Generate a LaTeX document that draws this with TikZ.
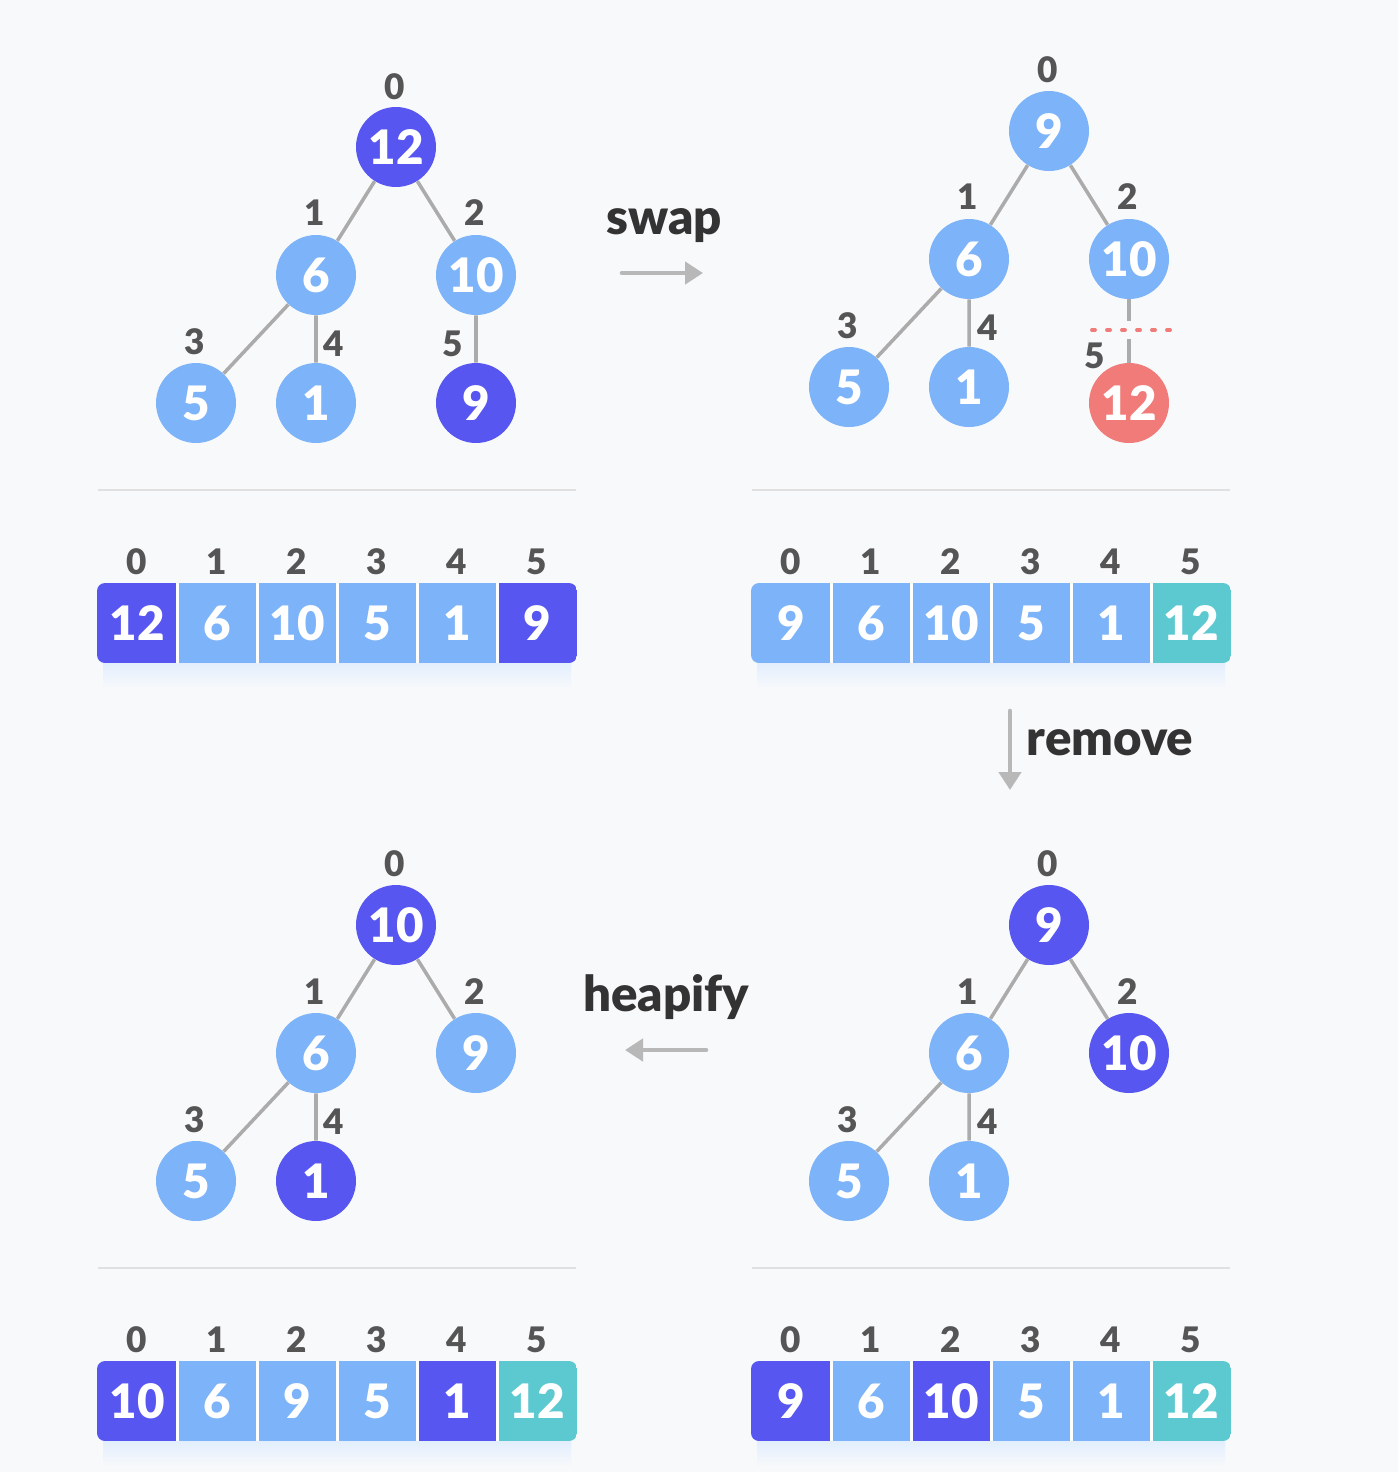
\documentclass[tikz,border=0pt]{standalone}
\usepackage{fontspec}
\IfFontExistsTF{Lato Black}{\setmainfont{Lato}[BoldFont={Lato Black}]}{%
	\IfFontExistsTF{Lato Heavy}{\setmainfont{Lato}[BoldFont={Lato Heavy}]}{\setmainfont{Lato}}}
\usetikzlibrary{arrows.meta}
\definecolor{dk}{HTML}{5856F0}
\definecolor{lt}{HTML}{7DB3F8}
\definecolor{tl}{HTML}{5CC9D1}
\definecolor{rd}{HTML}{F07B78}
\definecolor{bgc}{HTML}{F8F9FB}
\definecolor{edg}{HTML}{ABABAB}
\definecolor{idc}{HTML}{555555}
\definecolor{txc}{HTML}{333333}

\begin{document}
\begin{tikzpicture}[x=0.02cm, y=-0.02cm,
	key/.style={circle, minimum size=1.6cm, inner sep=0pt, text=white, font=\fontsize{27}{30}\selectfont\bfseries},
	idx/.style={text=idc, font=\fontsize{20}{22}\selectfont\bfseries, inner sep=0pt},
	cell/.style={minimum width=1.6cm, minimum height=1.6cm, inner sep=0pt, text=white, font=\fontsize{27}{30}\selectfont\bfseries},
	edge/.style={draw=edg, line width=2pt},
	sep/.style={draw=black!12, line width=1pt},
	move/.style={draw=edg!85, line width=2.6pt, line cap=round, -{Triangle[length=0.36cm, width=0.44cm]}},
	word/.style={text=txc, font=\fontsize{28}{30}\selectfont\bfseries, inner sep=0pt}]
	\fill[bgc] (0,0) rectangle (1398,1472);
	% trees
	\foreach \n/\x/\y/\v/\c in {a0/396/147/12/dk, a1/316/275/6/lt, a2/476/275/10/lt, a3/196/403/5/lt, a4/316/403/1/lt, a5/476/403/9/dk}
	{
		\node[key, fill=\c] (\n) at (\x,\y) {\v};
	}
	\foreach \n/\x/\y/\v/\c in {b0/1049/131/9/lt, b1/969/259/6/lt, b2/1129/259/10/lt, b3/849/387/5/lt, b4/969/387/1/lt, b5/1129/403/12/rd}
	{
		\node[key, fill=\c] (\n) at (\x,\y) {\v};
	}
	\foreach \n/\x/\y/\v/\c in {c0/396/925/10/dk, c1/316/1053/6/lt, c2/476/1053/9/lt, c3/196/1181/5/lt, c4/316/1181/1/dk}
	{
		\node[key, fill=\c] (\n) at (\x,\y) {\v};
	}
	\foreach \n/\x/\y/\v/\c in {d0/1049/925/9/dk, d1/969/1053/6/lt, d2/1129/1053/10/dk, d3/849/1181/5/lt, d4/969/1181/1/lt}
	{
		\node[key, fill=\c] (\n) at (\x,\y) {\v};
	}
	\draw[edge] (a1) -- (a0) -- (a2) -- (a5); \draw[edge] (a3) -- (a1) -- (a4);
	\draw[edge] (b1) -- (b0) -- (b2); \draw[edge] (b3) -- (b1) -- (b4);
	\coordinate (cut1) at (1129,321); \coordinate (cut2) at (1129,339);
	\draw[edge] (b2) -- (cut1); \draw[edge] (cut2) -- (b5);
	\coordinate (dl) at (1092,330); \coordinate (dr) at (1170,330);
	\draw[rd, line width=2.2pt, line cap=round, dash pattern=on 0.06cm off 0.24cm] (dl) -- (dr);
	\draw[edge] (c1) -- (c0) -- (c2); \draw[edge] (c3) -- (c1) -- (c4);
	\draw[edge] (d1) -- (d0) -- (d2); \draw[edge] (d3) -- (d1) -- (d4);
	% tree indices
	\foreach \i/\x/\y in {0/395/87, 1/315/213, 2/475/213, 3/195/342, 4/334/344, 5/453/344}
		\node[idx] (a\i i) at (\x,\y) {\i};
	\foreach \i/\x/\y in {0/1048/70, 1/968/197, 2/1128/197, 3/848/326, 4/988/328, 5/1095/356}
		\node[idx] (b\i i) at (\x,\y) {\i};
	\foreach \i/\x/\y in {0/395/864, 1/315/992, 2/475/992, 3/195/1120, 4/334/1122}
		\node[idx] (c\i i) at (\x,\y) {\i};
	\foreach \i/\x/\y in {0/1048/864, 1/968/992, 2/1128/992, 3/848/1120, 4/988/1122}
		\node[idx] (d\i i) at (\x,\y) {\i};
	% separators
	\draw[sep] (98,490) -- (576,490); \draw[sep] (752,490) -- (1230,490);
	\draw[sep] (98,1268) -- (576,1268); \draw[sep] (752,1268) -- (1230,1268);
	% arrays
	\begin{scope}[shift={(97,583)}]
		\shade[top color=lt!22, bottom color=bgc] (6,80) rectangle (474,106);
		\foreach \i in {0,...,5} \node[idx] at (40+80*\i,-21) {\i};
		\begin{scope}
			\clip[rounded corners=0.16cm] (0,0) rectangle (480,80);
			\foreach \i/\v/\c in {0/12/dk, 1/6/lt, 2/10/lt, 3/5/lt, 4/1/lt, 5/9/dk}
				\node[cell, fill=\c] (p\i) at (40+80*\i,40) {\v};
			\foreach \i in {0,...,4} \draw[white, line width=1.6pt] (p\i.north east) -- (p\i.south east);
		\end{scope}
	\end{scope}
	\begin{scope}[shift={(751,583)}]
		\shade[top color=lt!22, bottom color=bgc] (6,80) rectangle (474,106);
		\foreach \i in {0,...,5} \node[idx] at (40+80*\i,-21) {\i};
		\begin{scope}
			\clip[rounded corners=0.16cm] (0,0) rectangle (480,80);
			\foreach \i/\v/\c in {0/9/lt, 1/6/lt, 2/10/lt, 3/5/lt, 4/1/lt, 5/12/tl}
				\node[cell, fill=\c] (q\i) at (40+80*\i,40) {\v};
			\foreach \i in {0,...,4} \draw[white, line width=1.6pt] (q\i.north east) -- (q\i.south east);
		\end{scope}
	\end{scope}
	\begin{scope}[shift={(97,1361)}]
		\shade[top color=lt!22, bottom color=bgc] (6,80) rectangle (474,106);
		\foreach \i in {0,...,5} \node[idx] at (40+80*\i,-21) {\i};
		\begin{scope}
			\clip[rounded corners=0.16cm] (0,0) rectangle (480,80);
			\foreach \i/\v/\c in {0/10/dk, 1/6/lt, 2/9/lt, 3/5/lt, 4/1/dk, 5/12/tl}
				\node[cell, fill=\c] (r\i) at (40+80*\i,40) {\v};
			\foreach \i in {0,...,4} \draw[white, line width=1.6pt] (r\i.north east) -- (r\i.south east);
		\end{scope}
	\end{scope}
	\begin{scope}[shift={(751,1361)}]
		\shade[top color=lt!22, bottom color=bgc] (6,80) rectangle (474,106);
		\foreach \i in {0,...,5} \node[idx] at (40+80*\i,-21) {\i};
		\begin{scope}
			\clip[rounded corners=0.16cm] (0,0) rectangle (480,80);
			\foreach \i/\v/\c in {0/9/dk, 1/6/lt, 2/10/dk, 3/5/lt, 4/1/lt, 5/12/tl}
				\node[cell, fill=\c] (s\i) at (40+80*\i,40) {\v};
			\foreach \i in {0,...,4} \draw[white, line width=1.6pt] (s\i.north east) -- (s\i.south east);
		\end{scope}
	\end{scope}
	% steps
	\coordinate (sw1) at (622,273); \coordinate (sw2) at (703,273);
	\draw[move] (sw1) -- (sw2);
	\node[word] (swap) at (664,226) {swap};
	\coordinate (rm1) at (1010,711); \coordinate (rm2) at (1010,790);
	\draw[move] (rm1) -- (rm2);
	\node[word] (remove) at (1110,743) {remove};
	\coordinate (hp1) at (706,1050); \coordinate (hp2) at (625,1050);
	\draw[move] (hp1) -- (hp2);
	\node[word] (heapify) at (666,997) {heapify};
\end{tikzpicture}
\end{document}
